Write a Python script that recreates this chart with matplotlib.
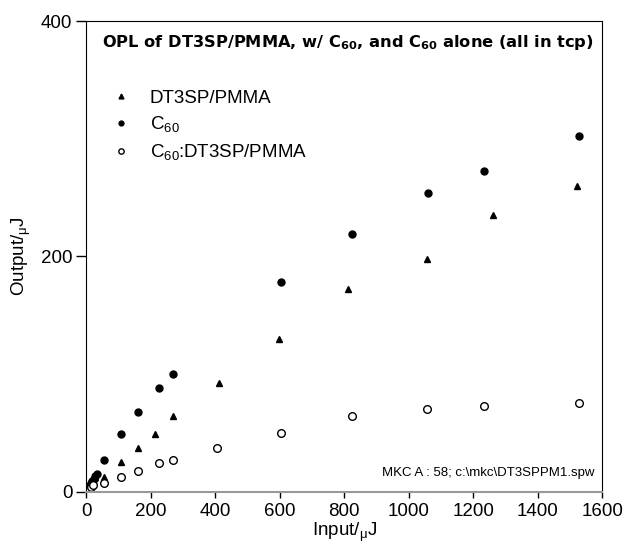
import matplotlib.pyplot as plt

plt.rcParams['font.family'] = ['Liberation Sans', 'DejaVu Sans']
plt.rcParams['mathtext.fontset'] = 'custom'
plt.rcParams['mathtext.rm'] = 'Liberation Sans'
plt.rcParams['mathtext.bf'] = 'DejaVu Sans:bold'

# DT3SP/PMMA (filled triangles)
x_dt3 = [3, 7, 11, 16, 22, 28, 54, 107, 160, 213, 269, 412, 598, 812, 1057, 1262, 1523]
y_dt3 = [1, 3, 5, 7, 9, 12, 12, 25, 37, 49, 64, 92, 130, 172, 198, 235, 260]

# C60 (filled circles)
x_c60 = [2, 5, 9, 13, 18, 23, 28, 33, 54, 107, 160, 225, 268, 605, 825, 1060, 1234, 1529]
y_c60 = [1, 3, 5, 7, 9, 11, 13, 15, 27, 49, 68, 88, 100, 178, 219, 254, 273, 302]

# C60:DT3SP/PMMA (open circles)
x_mix = [3, 8, 14, 20, 54, 107, 160, 225, 269, 405, 605, 825, 1057, 1234, 1527]
y_mix = [1, 2, 4, 6, 7, 12.5, 17.6, 24.4, 27, 37, 50, 64, 70, 73, 75.5]

fig = plt.figure(figsize=(6.26, 5.45), dpi=100)
ax = fig.add_axes([0.138, 0.098, 0.824, 0.863])

ax.plot(x_dt3, y_dt3, '^', color='black', markersize=5, linestyle='none', label='DT3SP/PMMA')
ax.plot(x_c60, y_c60, 'o', color='black', markersize=5, linestyle='none', label='C$_{60}$')
ax.plot(x_mix, y_mix, 'o', markerfacecolor='white', markeredgecolor='black', markeredgewidth=1,
        markersize=5.5, linestyle='none', label='C$_{60}$:DT3SP/PMMA')

ax.set_xlim(0, 1600)
ax.set_ylim(0, 400)
ax.set_xticks(range(0, 1601, 200))
ax.set_yticks([0, 200, 400])
ax.tick_params(direction='out', width=1, labelsize=13.5)
ax.tick_params(axis='x', length=4.5, pad=4)
ax.tick_params(axis='y', length=7, pad=3)
ax.spines['bottom'].set_color('#999999')
ax.spines['bottom'].set_linewidth(1.5)

ax.set_xlabel('Input/$_{\\mathrm{μ}}$J', fontsize=13.5, labelpad=0)
ax.set_ylabel('Output/$_{\\mathrm{μ}}$J', fontsize=13.5, labelpad=6)

ax.text(0.03, 0.955, 'OPL of DT3SP/PMMA, w/ C$_{\\mathbf{60}}$, and C$_{\\mathbf{60}}$ alone (all in tcp)',
        transform=ax.transAxes, fontsize=11.7, fontfamily='DejaVu Sans', fontweight='bold',
        va='center', ha='left')

ax.legend(loc='upper left', bbox_to_anchor=(0.012, 0.89), frameon=False, fontsize=13.5,
          markerscale=0.7, handlelength=1.2, handletextpad=0.95, labelspacing=0.4)

ax.text(0.985, 0.04, 'MKC A : 58; c:\\mkc\\DT3SPPM1.spw', transform=ax.transAxes,
        fontsize=9.5, ha='right', va='center')

plt.savefig('out.png', dpi=100)
